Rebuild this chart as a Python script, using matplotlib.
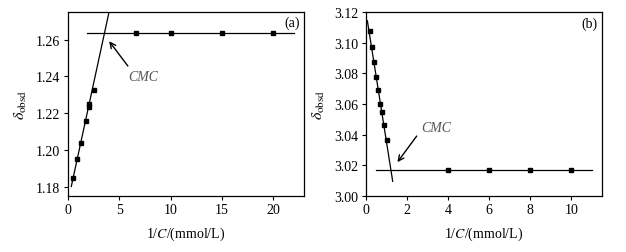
import matplotlib.pyplot as plt
import numpy as np

plt.rcParams['font.family'] = ['Liberation Serif', 'DejaVu Serif']
plt.rcParams['mathtext.fontset'] = 'stix'

# panel (a)
xa = [0.5, 0.91, 1.3, 1.72, 2.0, 2.08, 2.5, 6.67, 10, 15, 20]
ya = [1.1845, 1.1949, 1.2035, 1.2160, 1.2235, 1.2249, 1.2329, 1.2635, 1.2635, 1.2635, 1.2635]
fit_a_x = [0.32, 4.0]
fit_a_y = [1.180, 1.2751]
flat_a_x = [1.85, 22.0]
flat_a_y = [1.2635, 1.2635]

# panel (b)
xb = [0.2, 0.3, 0.4, 0.5, 0.6, 0.7, 0.8, 0.9, 1.0, 4, 6, 8, 10]
yb = [3.1075, 3.0974, 3.0872, 3.0775, 3.0690, 3.0602, 3.0550, 3.0464, 3.0366,
      3.0166, 3.0166, 3.0166, 3.0166]
fit_b_x = [0.065, 1.30]
fit_b_y = [3.1145, 3.0094]
flat_b_x = [0.47, 11.0]
flat_b_y = [3.0169, 3.0169]

fig = plt.figure(figsize=(6.26, 2.53), dpi=100)
axa = fig.add_axes([0.1086, 0.2225, 0.377, 0.725])
axb = fig.add_axes([0.5847, 0.2225, 0.377, 0.725])

for ax in (axa, axb):
    ax.tick_params(direction='out', length=3, width=0.8, labelsize=10,
                   colors='black', pad=2.5)
    for s in ax.spines.values():
        s.set_linewidth(0.9)
    ax.set_xlabel('1/$C$/(mmol/L)', fontsize=10, labelpad=6)
    ax.set_ylabel('$\\delta_{\\mathrm{obsd}}$', fontsize=11.5, labelpad=5)

axa.plot(fit_a_x, fit_a_y, color='black', lw=0.9)
axa.plot(flat_a_x, flat_a_y, color='black', lw=0.9)
axa.plot(xa, ya, 's', color='black', ms=3.5)
axa.set_xlim(0, 23)
axa.set_ylim(1.175, 1.275)
axa.set_xticks([0, 5, 10, 15, 20])
axa.set_yticks([1.18, 1.20, 1.22, 1.24, 1.26])
axa.set_yticklabels(['1.18', '1.20', '1.22', '1.24', '1.26'])
axa.annotate('', xy=(3.85, 1.2604), xytext=(6.0, 1.2445),
             arrowprops=dict(arrowstyle='->', color='black', lw=1.0))
axa.text(7.3, 1.2398, 'CMC', style='italic', color='#555555', fontsize=10,
         ha='center', va='center')
axa.text(21.8, 1.2695, '(a)', fontsize=10, ha='center', va='center')

axb.plot(fit_b_x, fit_b_y, color='black', lw=0.9)
axb.plot(flat_b_x, flat_b_y, color='black', lw=0.9)
axb.plot(xb, yb, 's', color='black', ms=3.5)
axb.set_xlim(0, 11.5)
axb.set_ylim(3.00, 3.12)
axb.set_xticks([0, 2, 4, 6, 8, 10])
axb.set_yticks([3.00, 3.02, 3.04, 3.06, 3.08, 3.10, 3.12])
axb.set_yticklabels(['3.00', '3.02', '3.04', '3.06', '3.08', '3.10', '3.12'])
axb.annotate('', xy=(1.45, 3.0205), xytext=(2.55, 3.0405),
             arrowprops=dict(arrowstyle='->', color='black', lw=1.0))
axb.text(3.4, 3.0449, 'CMC', style='italic', color='#555555', fontsize=10,
         ha='center', va='center')
axb.text(10.9, 3.1128, '(b)', fontsize=10, ha='center', va='center')

fig.savefig('out.png', dpi=100)
